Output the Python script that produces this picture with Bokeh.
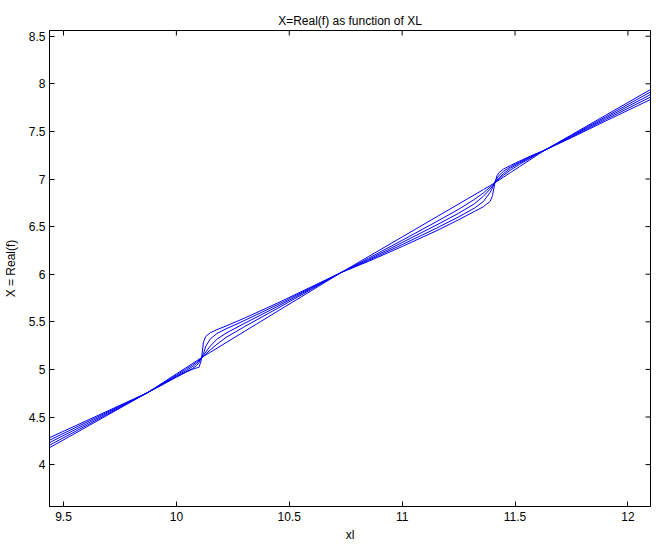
from bokeh.plotting import figure
from bokeh.models import FixedTicker, Range1d
from bokeh.embed import file_html
from bokeh.resources import INLINE

# ---- data ----
xl = [9.44, 9.6, 9.75, 9.87, 9.95, 10.0, 10.04, 10.07, 10.09, 10.10, 10.11, 10.12,
      10.13, 10.15, 10.18, 10.22, 10.3, 10.45, 10.6, 10.73, 10.85, 11.0, 11.15,
      11.25, 11.32, 11.36, 11.39, 11.40, 11.41, 11.42, 11.43, 11.45, 11.48, 11.52,
      11.58, 11.63, 11.75, 11.9, 12.1]

curve_1 = [4.285, 4.459, 4.623, 4.753, 4.854, 4.918, 4.967, 5.000, 5.016, 5.021, 5.092, 5.287,
           5.346, 5.385, 5.418, 5.456, 5.537, 5.699, 5.870, 6.018, 6.134, 6.291, 6.454,
           6.572, 6.659, 6.709, 6.766, 6.825, 6.949, 7.035, 7.070, 7.106, 7.143, 7.188,
           7.253, 7.301, 7.434, 7.608, 7.835]
curve_2 = [4.259, 4.443, 4.616, 4.753, 4.858, 4.923, 4.972, 5.008, 5.041, 5.071, 5.112, 5.167,
           5.241, 5.320, 5.378, 5.426, 5.512, 5.682, 5.862, 6.018, 6.144, 6.311, 6.481,
           6.602, 6.694, 6.764, 6.861, 6.905, 6.969, 7.010, 7.040, 7.083, 7.128, 7.178,
           7.248, 7.301, 7.441, 7.623, 7.861]
curve_3 = [4.233, 4.426, 4.608, 4.753, 4.863, 4.931, 4.984, 5.027, 5.063, 5.086, 5.116, 5.149,
           5.181, 5.245, 5.318, 5.381, 5.482, 5.664, 5.854, 6.018, 6.154, 6.333, 6.514,
           6.640, 6.739, 6.819, 6.896, 6.925, 6.962, 6.990, 7.015, 7.059, 7.113, 7.168,
           7.243, 7.301, 7.449, 7.638, 7.887]
curve_4 = [4.206, 4.409, 4.600, 4.753, 4.869, 4.941, 4.999, 5.045, 5.079, 5.097, 5.119, 5.141,
           5.161, 5.205, 5.265, 5.336, 5.447, 5.644, 5.844, 6.018, 6.167, 6.356, 6.549,
           6.682, 6.786, 6.854, 6.916, 6.936, 6.960, 6.982, 7.002, 7.041, 7.094, 7.154,
           7.235, 7.301, 7.456, 7.652, 7.914]
curve_5 = [4.180, 4.393, 4.593, 4.753, 4.876, 4.953, 5.014, 5.060, 5.091, 5.106, 5.122, 5.137,
           5.151, 5.180, 5.223, 5.281, 5.397, 5.614, 5.830, 6.018, 6.184, 6.391, 6.599,
           6.737, 6.834, 6.889, 6.931, 6.945, 6.959, 6.975, 6.990, 7.021, 7.068, 7.130,
           7.223, 7.301, 7.464, 7.668, 7.940]

curves = [curve_1, curve_2, curve_3, curve_4, curve_5]

x_ticks = [9.5, 10, 10.5, 11, 11.5, 12]
x_tick_labels = ["9.5", "10", "10.5", "11", "11.5", "12"]
y_ticks = [4, 4.5, 5, 5.5, 6, 6.5, 7, 7.5, 8, 8.5]
y_tick_labels = ["4", "4.5", "5", "5.5", "6", "6.5", "7", "7.5", "8", "8.5"]

title_text = "X=Real(f) as function of XL"
x_label = "xl"
y_label = "X = Real(f)"

FONT = "Liberation Sans"

X0, X1 = 9.438, 12.1
Y0, Y1 = 3.56, 8.56
W, H = 656, 545
BL, BR, BT, BB = 47, 6, 30, 39
FRAME_W = W - BL - BR
FRAME_H = H - BT - BB
TICK_PX = 5

p = figure(width=W, height=H, output_backend="svg", toolbar_location=None,
           x_range=Range1d(X0, X1), y_range=Range1d(Y0, Y1),
           min_border_left=BL, min_border_right=BR, min_border_top=BT, min_border_bottom=BB)

p.title.text = title_text
p.title.align = "center"
p.title.text_font = FONT
p.title.text_font_size = "12px"
p.title.text_font_style = "normal"
p.title.text_color = "black"
p.title.standoff = 6
p.title.offset = 0

p.grid.visible = False
p.outline_line_color = "black"
p.outline_line_width = 1
p.background_fill_color = "white"
p.border_fill_color = "white"

for c in curves:
    p.line(xl, c, line_color="blue", line_width=1)

# mirrored inward ticks on the top and right edges of the frame
dy = (Y1 - Y0) * TICK_PX / FRAME_H
dx = (X1 - X0) * TICK_PX / FRAME_W
p.segment(x0=x_ticks, y0=[Y1] * len(x_ticks), x1=x_ticks, y1=[Y1 - dy] * len(x_ticks),
          line_color="black", line_width=1)
p.segment(x0=[X1] * len(y_ticks), y0=y_ticks, x1=[X1 - dx] * len(y_ticks), y1=y_ticks,
          line_color="black", line_width=1)


def style(ax, ticks, labels):
    ax.ticker = FixedTicker(ticks=ticks)
    ax.major_label_overrides = {t: l for t, l in zip(ticks, labels)}
    ax.major_tick_in = TICK_PX
    ax.major_tick_out = 0
    ax.minor_tick_in = 0
    ax.minor_tick_out = 0
    ax.axis_line_color = "black"
    ax.major_tick_line_color = "black"
    ax.major_label_text_font = FONT
    ax.major_label_text_font_size = "12px"
    ax.major_label_text_color = "black"
    ax.axis_label_text_font = FONT
    ax.axis_label_text_font_size = "12px"
    ax.axis_label_text_font_style = "normal"
    ax.axis_label_text_color = "black"


xa = p.xaxis[0]
style(xa, x_ticks, x_tick_labels)
xa.axis_label = x_label
xa.major_label_standoff = 5
xa.axis_label_standoff = 4

ya = p.yaxis[0]
style(ya, y_ticks, y_tick_labels)
ya.axis_label = y_label
ya.major_label_standoff = 4
ya.axis_label_standoff = 8

open("out.html", "w").write(file_html(p, INLINE))
